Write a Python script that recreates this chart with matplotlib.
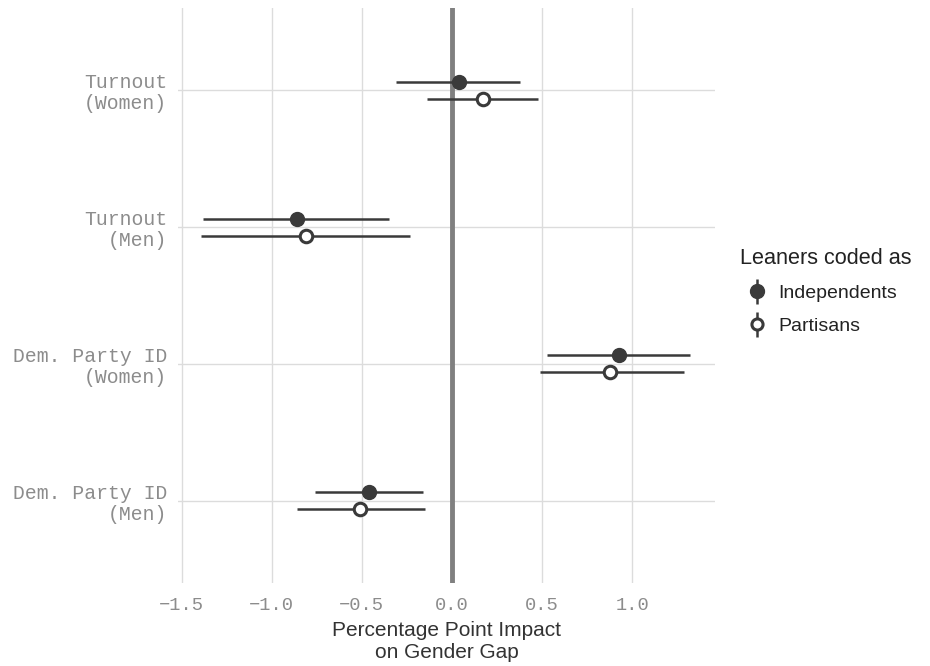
import numpy as np
import matplotlib.pyplot as plt
from matplotlib.lines import Line2D

# Estimates and confidence intervals, top to bottom
categories = ["Turnout\n(Women)", "Turnout\n(Men)",
              "Dem. Party ID\n(Women)", "Dem. Party ID\n(Men)"]
ind_est = [0.04, -0.86, 0.93, -0.46]
ind_lo = [-0.31, -1.38, 0.53, -0.76]
ind_hi = [0.38, -0.35, 1.32, -0.16]
par_est = [0.17, -0.81, 0.88, -0.51]
par_lo = [-0.14, -1.39, 0.49, -0.86]
par_hi = [0.48, -0.23, 1.29, -0.15]
x_ticks = [-1.5, -1.0, -0.5, 0.0, 0.5, 1.0]

mono = "Liberation Mono"
sans = "Liberation Sans"
dark = "#3a3a3a"
grid_col = "#dcdcdc"

fig = plt.figure(figsize=(9.3, 6.66), dpi=100)
ax = fig.add_axes([0.1914, 0.1246, 0.5774, 0.8634])

ypos = np.arange(len(categories))[::-1] + 1.0
dodge = 0.062

# grid
for x in x_ticks:
    ax.axvline(x, color=grid_col, lw=1.0, zorder=0)
for y in ypos:
    ax.axhline(y, color=grid_col, lw=1.0, zorder=0)
ax.axvline(0, color="#808080", lw=3.5, zorder=1)

# Independents (filled)
ax.hlines(ypos + dodge, ind_lo, ind_hi, color=dark, lw=1.8, zorder=2)
ax.plot(ind_est, ypos + dodge, "o", ms=10, color=dark, mec=dark, zorder=3)
# Partisans (hollow)
ax.hlines(ypos - dodge, par_lo, par_hi, color=dark, lw=1.8, zorder=2)
ax.plot(par_est, ypos - dodge, "o", ms=9, mfc="white", mec=dark, mew=2.2, zorder=3)

ax.set_xlim(-1.52, 1.46)
ax.set_ylim(0.4, 4.6)
ax.set_xticks(x_ticks)
ax.set_xticklabels([f"{v:.1f}".replace("-", "\u2212") for v in x_ticks],
                   fontfamily=mono, fontsize=13.5, color="#8c8c8c")
ax.set_yticks(ypos)
ax.set_yticklabels(categories, fontfamily=mono, fontsize=14.2, color="#8c8c8c",
                   linespacing=1.12)
ax.tick_params(axis="x", length=0, pad=10)
ax.tick_params(axis="y", length=0, pad=8)
for s in ax.spines.values():
    s.set_visible(False)

ax.set_xlabel("Percentage Point Impact\non Gender Gap", fontfamily=sans,
              fontsize=15, color="#333333", linespacing=1.2, labelpad=5)

# legend with pointrange-style keys
h_ind = (Line2D([], [], marker="|", ms=18, mew=1.8, color=dark, ls="none"),
         Line2D([], [], marker="o", ms=10, color=dark, ls="none"))
h_par = (Line2D([], [], marker="|", ms=18, mew=1.8, color=dark, ls="none"),
         Line2D([], [], marker="o", ms=8, mfc="white", mec=dark, mew=2.2, ls="none"))
fig.text(0.7957, 0.6115, "Leaners coded as", fontfamily=sans, fontsize=15.6,
         color="#222222", ha="left", va="center")
leg = fig.legend([h_ind, h_par], ["Independents", "Partisans"],
                 loc="center left", bbox_to_anchor=(0.7948, 0.535),
                 borderaxespad=0, frameon=False,
                 prop={"family": sans, "size": 14},
                 handlelength=1.0, handletextpad=0.6, labelspacing=0.8)
for t in leg.get_texts():
    t.set_color("#222222")

fig.savefig("out.png", dpi=100)
